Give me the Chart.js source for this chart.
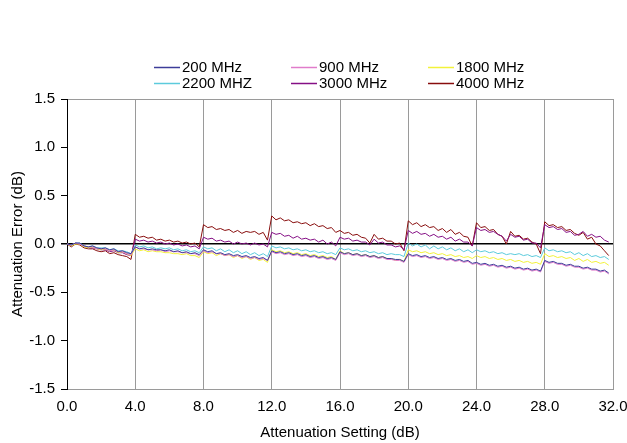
<!DOCTYPE html>
<html>
<head>
<meta charset="utf-8">
<script src="https://cdn.jsdelivr.net/npm/chart.js@4.4.1/dist/chart.umd.min.js"></script>
<style>
  body { margin: 0; background: #fff; }
  #wrap { width: 627px; height: 443px; }
</style>
</head>
<body>
<div id="wrap"><canvas id="myChart" width="627" height="443"></canvas></div>
<script>
// attenuation setting in dB, 0.25 dB steps
var atten = [
  0, 0.25, 0.5, 0.75, 1, 1.25, 1.5, 1.75, 2, 2.25, 2.5, 2.75, 3, 3.25, 3.5, 3.75,
  4, 4.25, 4.5, 4.75, 5, 5.25, 5.5, 5.75, 6, 6.25, 6.5, 6.75, 7, 7.25, 7.5, 7.75,
  8, 8.25, 8.5, 8.75, 9, 9.25, 9.5, 9.75, 10, 10.25, 10.5, 10.75, 11, 11.25, 11.5, 11.75,
  12, 12.25, 12.5, 12.75, 13, 13.25, 13.5, 13.75, 14, 14.25, 14.5, 14.75, 15, 15.25, 15.5, 15.75,
  16, 16.25, 16.5, 16.75, 17, 17.25, 17.5, 17.75, 18, 18.25, 18.5, 18.75, 19, 19.25, 19.5, 19.75,
  20, 20.25, 20.5, 20.75, 21, 21.25, 21.5, 21.75, 22, 22.25, 22.5, 22.75, 23, 23.25, 23.5, 23.75,
  24, 24.25, 24.5, 24.75, 25, 25.25, 25.5, 25.75, 26, 26.25, 26.5, 26.75, 27, 27.25, 27.5, 27.75,
  28, 28.25, 28.5, 28.75, 29, 29.25, 29.5, 29.75, 30, 30.25, 30.5, 30.75, 31, 31.25, 31.5, 31.75
];

var err200 = [
  0, -0.01, 0.01, 0.01, -0.02, -0.03, -0.02, -0.04, -0.05, -0.04, -0.06, -0.05, -0.08, -0.07, -0.09, -0.1,
  -0.03, -0.05, -0.04, -0.06, -0.05, -0.06, -0.06, -0.07, -0.06, -0.08, -0.07, -0.09, -0.08, -0.1, -0.09, -0.11,
  -0.06, -0.08, -0.07, -0.1, -0.09, -0.11, -0.1, -0.12, -0.11, -0.13, -0.12, -0.14, -0.13, -0.15, -0.14, -0.17,
  -0.07, -0.09, -0.08, -0.1, -0.09, -0.11, -0.1, -0.12, -0.11, -0.13, -0.12, -0.14, -0.13, -0.15, -0.14, -0.16,
  -0.08, -0.1, -0.09, -0.11, -0.1, -0.12, -0.11, -0.13, -0.12, -0.14, -0.13, -0.15, -0.15, -0.16, -0.16, -0.18,
  -0.1, -0.12, -0.11, -0.13, -0.12, -0.14, -0.13, -0.15, -0.14, -0.16, -0.15, -0.17, -0.16, -0.18, -0.17, -0.2,
  -0.19, -0.21, -0.2, -0.22, -0.21, -0.23, -0.22, -0.24, -0.23, -0.25, -0.24, -0.26, -0.25, -0.27, -0.26, -0.28,
  -0.17, -0.19, -0.18, -0.2, -0.2, -0.22, -0.21, -0.23, -0.23, -0.25, -0.24, -0.26, -0.26, -0.28, -0.27, -0.3
];
var err900 = [
  0, -0.01, 0.01, 0.0, -0.02, -0.03, -0.03, -0.05, -0.05, -0.05, -0.07, -0.06, -0.08, -0.08, -0.1, -0.11,
  -0.03, -0.05, -0.05, -0.06, -0.06, -0.07, -0.06, -0.08, -0.07, -0.08, -0.08, -0.09, -0.09, -0.1, -0.1, -0.12,
  -0.07, -0.09, -0.08, -0.1, -0.1, -0.12, -0.11, -0.13, -0.12, -0.14, -0.13, -0.15, -0.14, -0.16, -0.15, -0.17,
  -0.08, -0.1, -0.09, -0.11, -0.1, -0.12, -0.11, -0.13, -0.12, -0.14, -0.13, -0.15, -0.14, -0.16, -0.15, -0.17,
  -0.09, -0.11, -0.1, -0.12, -0.11, -0.13, -0.12, -0.14, -0.13, -0.15, -0.14, -0.16, -0.16, -0.17, -0.17, -0.19,
  -0.11, -0.13, -0.12, -0.14, -0.13, -0.15, -0.14, -0.16, -0.15, -0.17, -0.16, -0.18, -0.17, -0.19, -0.18, -0.21,
  -0.2, -0.22, -0.21, -0.23, -0.22, -0.24, -0.23, -0.25, -0.24, -0.26, -0.25, -0.27, -0.26, -0.28, -0.27, -0.29,
  -0.18, -0.2, -0.19, -0.21, -0.21, -0.23, -0.22, -0.24, -0.24, -0.26, -0.25, -0.27, -0.27, -0.29, -0.28, -0.31
];
var err1800 = [
  0, -0.02, 0.0, 0.0, -0.03, -0.04, -0.03, -0.05, -0.06, -0.05, -0.07, -0.06, -0.09, -0.08, -0.1, -0.12,
  -0.05, -0.07, -0.06, -0.08, -0.07, -0.08, -0.08, -0.09, -0.09, -0.1, -0.1, -0.11, -0.1, -0.12, -0.12, -0.14,
  -0.08, -0.1, -0.09, -0.12, -0.1, -0.12, -0.11, -0.14, -0.12, -0.15, -0.13, -0.16, -0.14, -0.17, -0.16, -0.19,
  -0.06, -0.08, -0.07, -0.09, -0.08, -0.1, -0.09, -0.11, -0.1, -0.12, -0.11, -0.13, -0.12, -0.14, -0.13, -0.16,
  -0.07, -0.1, -0.09, -0.11, -0.1, -0.12, -0.11, -0.13, -0.12, -0.14, -0.13, -0.15, -0.15, -0.17, -0.16, -0.18,
  -0.06, -0.08, -0.07, -0.09, -0.08, -0.1, -0.09, -0.11, -0.1, -0.12, -0.11, -0.13, -0.12, -0.14, -0.13, -0.15,
  -0.12, -0.14, -0.13, -0.15, -0.14, -0.16, -0.15, -0.17, -0.16, -0.18, -0.17, -0.19, -0.18, -0.2, -0.19, -0.21,
  -0.1, -0.13, -0.12, -0.14, -0.13, -0.15, -0.14, -0.17, -0.15, -0.18, -0.16, -0.19, -0.18, -0.2, -0.19, -0.22
];
var err2200 = [
  0, -0.01, 0.01, 0.01, -0.02, -0.03, -0.02, -0.04, -0.04, -0.04, -0.06, -0.05, -0.07, -0.07, -0.08, -0.1,
  -0.01, -0.03, -0.02, -0.04, -0.03, -0.05, -0.04, -0.05, -0.04, -0.06, -0.05, -0.07, -0.06, -0.08, -0.07, -0.09,
  -0.03, -0.05, -0.04, -0.07, -0.05, -0.08, -0.06, -0.09, -0.07, -0.1, -0.08, -0.11, -0.09, -0.12, -0.1, -0.13,
  -0.02, -0.04, -0.03, -0.05, -0.04, -0.06, -0.05, -0.07, -0.06, -0.08, -0.07, -0.09, -0.08, -0.1, -0.09, -0.11,
  -0.04, -0.06, -0.05, -0.07, -0.06, -0.08, -0.07, -0.09, -0.08, -0.1, -0.09, -0.11, -0.1, -0.11, -0.11, -0.13,
  0.01, -0.02, 0.0, -0.03, -0.01, -0.05, -0.02, -0.05, -0.03, -0.06, -0.04, -0.07, -0.05, -0.08, -0.06, -0.09,
  -0.06, -0.08, -0.07, -0.09, -0.08, -0.1, -0.09, -0.11, -0.1, -0.11, -0.1, -0.12, -0.11, -0.13, -0.12, -0.14,
  -0.04, -0.07, -0.06, -0.08, -0.07, -0.09, -0.08, -0.11, -0.09, -0.12, -0.1, -0.13, -0.12, -0.14, -0.13, -0.16
];
var err3000 = [
  0, -0.02, 0.01, 0.0, -0.03, -0.04, -0.04, -0.05, -0.06, -0.06, -0.08, -0.07, -0.09, -0.09, -0.11, -0.12,
  0.05, 0.03, 0.04, 0.02, 0.03, 0.01, 0.02, 0.0, 0.01, -0.01, 0.0, -0.02, -0.01, -0.03, -0.02, -0.05,
  0.07, 0.05, 0.06, 0.03, 0.04, 0.02, 0.03, 0.0, 0.02, 0.0, 0.01, -0.01, 0.01, -0.01, 0.0, -0.03,
  0.12, 0.1, 0.11, 0.08, 0.09, 0.06, 0.08, 0.05, 0.06, 0.04, 0.05, 0.02, 0.04, 0.0, 0.02, -0.02,
  0.07, 0.05, 0.06, 0.03, 0.04, 0.02, 0.02, -0.01, 0.05, 0.01, 0.02, -0.01, -0.01, -0.03, -0.02, -0.06,
  0.14, 0.11, 0.13, 0.1, 0.11, 0.08, 0.1, 0.07, 0.08, 0.05, 0.07, 0.03, 0.05, 0.02, 0.02, -0.02,
  0.17, 0.14, 0.15, 0.12, 0.13, 0.1, 0.08, 0.03, 0.1, 0.07, 0.08, 0.04, 0.05, 0.01, 0.01, -0.04,
  0.2, 0.17, 0.18, 0.15, 0.16, 0.12, 0.13, 0.09, 0.1, 0.13, 0.08, 0.1, 0.07, 0.08, 0.04, 0.02
];
var err4000 = [
  0, -0.03, 0.0, -0.01, -0.04, -0.05, -0.05, -0.07, -0.08, -0.07, -0.1, -0.09, -0.11, -0.12, -0.13, -0.16,
  0.1, 0.07, 0.08, 0.06, 0.07, 0.04, 0.05, 0.03, 0.04, 0.02, 0.03, 0.01, 0.02, 0.0, 0.01, -0.03,
  0.2, 0.17, 0.18, 0.15, 0.16, 0.14, 0.15, 0.12, 0.14, 0.11, 0.13, 0.12, 0.13, 0.1, 0.12, 0.04,
  0.29, 0.25, 0.27, 0.24, 0.25, 0.22, 0.23, 0.21, 0.22, 0.19, 0.21, 0.18, 0.19, 0.16, 0.17, 0.12,
  0.14, 0.11, 0.12, 0.09, 0.1, 0.07, 0.06, 0.01, 0.1, 0.05, 0.06, 0.03, 0.03, 0.0, 0.01, -0.07,
  0.24, 0.2, 0.22, 0.18, 0.2, 0.17, 0.18, 0.14, 0.16, 0.12, 0.15, 0.1, 0.12, 0.08, 0.07, -0.02,
  0.22, 0.17, 0.18, 0.14, 0.15, 0.1, 0.08, 0.0, 0.13, 0.08, 0.09, 0.05, 0.06, 0.02, 0.0, -0.1,
  0.23, 0.19, 0.2, 0.17, 0.18, 0.14, 0.15, 0.11, 0.09, 0.12, 0.05, 0.07, 0.0, -0.02, -0.07, -0.12
];

var nombres = ['200 MHz', '900 MHz', '1800 MHz', '2200 MHZ', '3000 MHz', '4000 MHz'];
var colores = ['#3d3d99', '#e07ccb', '#f2f23a', '#5ccbdc', '#850f85', '#880d0d'];
var series = [err200, err900, err1800, err2200, err3000, err4000];

var fuente = "'Liberation Sans', Arial, sans-serif";

function puntos(valores) {
  return valores.map(function (v, i) { return { x: atten[i], y: v }; });
}

// legend drawn in fixed columns like the original
const leyenda = {
  id: 'leyenda',
  afterDraw(chart) {
    const ctx = chart.ctx;
    const colX = [154, 291, 428];
    const rowY = [67, 83];
    ctx.save();
    ctx.font = '15px ' + fuente;
    ctx.textBaseline = 'middle';
    ctx.fillStyle = '#000';
    chart.data.datasets.forEach(function (ds, i) {
      const x = colX[i % 3];
      const y = rowY[Math.floor(i / 3)];
      ctx.strokeStyle = ds.borderColor;
      ctx.lineWidth = 1.5;
      ctx.beginPath();
      ctx.moveTo(x, y + 0.5);
      ctx.lineTo(x + 26, y + 0.5);
      ctx.stroke();
      ctx.fillText(ds.label, x + 28, y + 1);
    });
    ctx.restore();
  }
};

const datasets = series.map(function (s, i) {
  return {
    label: nombres[i],
    data: puntos(s),
    borderColor: colores[i],
    backgroundColor: colores[i],
    borderWidth: 1,
    pointRadius: 0,
    tension: 0,
    fill: false
  };
});

new Chart(document.getElementById('myChart'), {
  type: 'line',
  data: { datasets: datasets },
  options: {
    responsive: false,
    animation: false,
    devicePixelRatio: 1,
    layout: { autoPadding: false, padding: { top: 99, right: 14, bottom: 0, left: 0 } },
    plugins: {
      legend: { display: false },
      tooltip: { enabled: false }
    },
    scales: {
      x: {
        type: 'linear',
        min: 0,
        max: 32,
        afterFit: function (scale) {
          scale.height = 54;
          scale.paddingLeft = 0;
          scale.paddingRight = 0;
        },
        ticks: {
          stepSize: 4,
          color: '#000',
          padding: 9,
          maxRotation: 0,
          font: { family: fuente, size: 15 },
          callback: function (v) { return v.toFixed(1); }
        },
        grid: { color: '#9a9a9a', drawTicks: false, lineWidth: 1 },
        border: { display: true, color: '#9a9a9a' },
        title: {
          display: true,
          text: 'Attenuation Setting (dB)',
          color: '#000',
          font: { family: fuente, size: 15 },
          padding: { top: 0, bottom: 1 }
        }
      },
      y: {
        min: -1.5,
        max: 1.5,
        afterFit: function (scale) {
          scale.width = 67;
          scale.paddingTop = 0;
          scale.paddingBottom = 0;
        },
        ticks: {
          stepSize: 0.5,
          color: '#000',
          padding: 6,
          font: { family: fuente, size: 15 },
          callback: function (v) { return v.toFixed(1); }
        },
        grid: {
          color: function (c) {
            if (!c.tick) return 'rgba(0,0,0,0)';
            if (c.tick.value === 0) return '#000';
            if (Math.abs(c.tick.value) === 1.5) return '#9a9a9a';
            return 'rgba(0,0,0,0)';
          },
          tickColor: '#000',
          tickLength: 6,
          lineWidth: function (c) { return (c.tick && c.tick.value === 0) ? 1.5 : 1; }
        },
        border: { display: true, color: '#000' },
        title: {
          display: true,
          text: 'Attenuation Error (dB)',
          color: '#000',
          font: { family: fuente, size: 15 },
          padding: { top: 9, bottom: 0 }
        }
      }
    }
  },
  plugins: [leyenda]
});
</script>
</body>
</html>
